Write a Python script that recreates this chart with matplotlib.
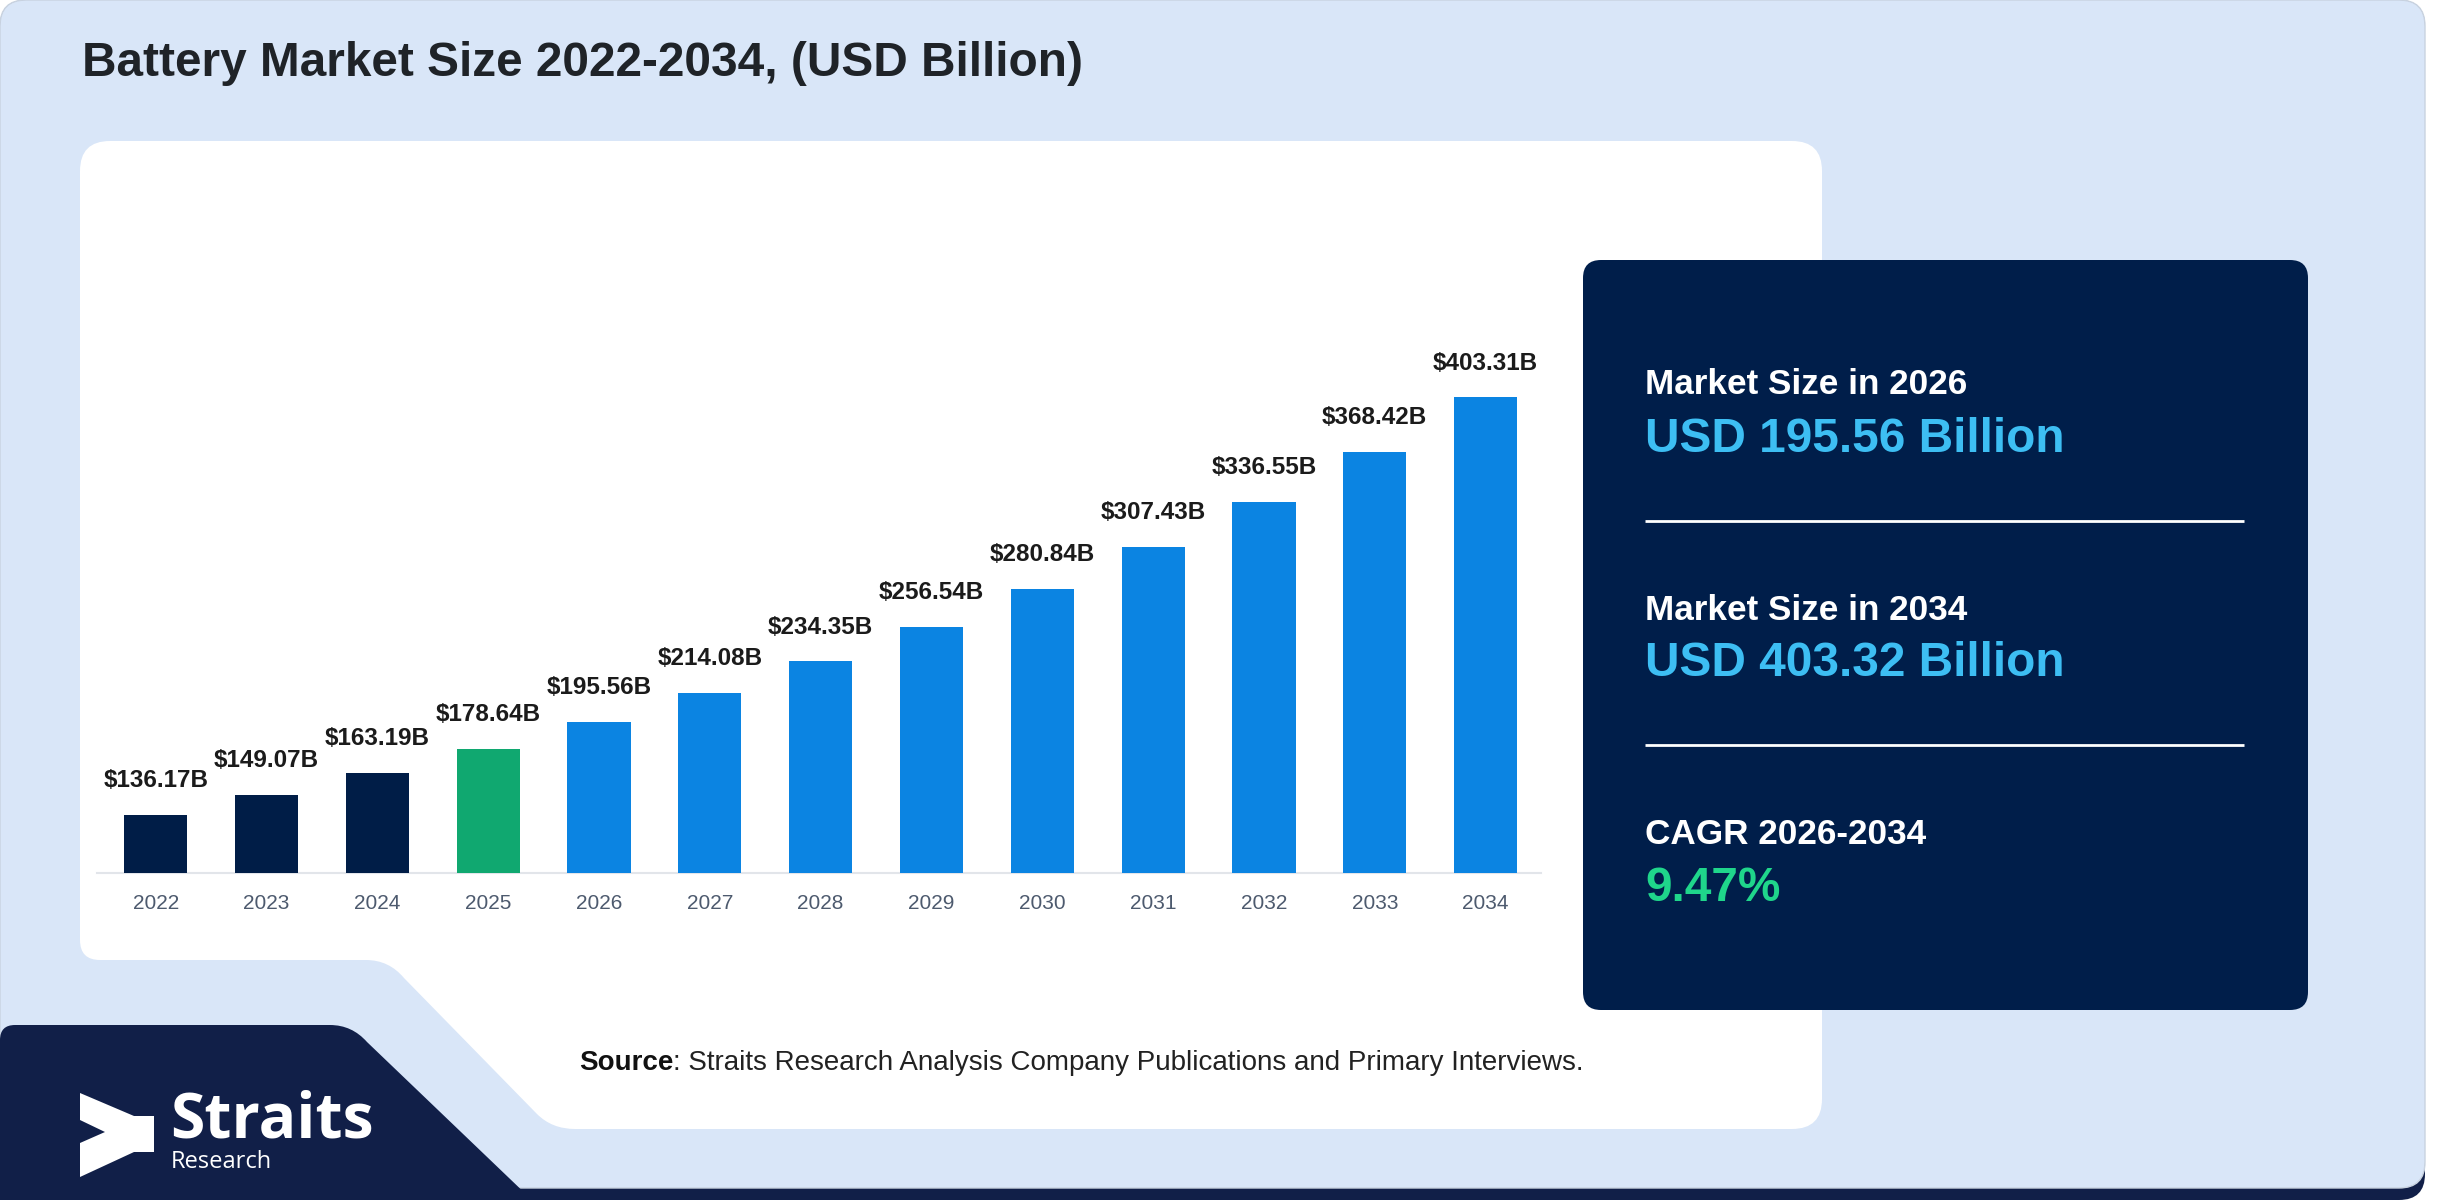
import matplotlib
matplotlib.use("Agg")
import matplotlib.pyplot as plt
from matplotlib.patches import FancyBboxPatch, PathPatch, Polygon
from matplotlib.path import Path

# ---------------- data ----------------
years = ["2022", "2023", "2024", "2025", "2026", "2027", "2028",
         "2029", "2030", "2031", "2032", "2033", "2034"]
values = [136.17, 149.07, 163.19, 178.64, 195.56, 214.08, 234.35,
          256.54, 280.84, 307.43, 336.55, 368.42, 403.31]
title = "Battery Market Size 2022-2034, (USD Billion)"
stat_labels = ["Market Size in 2026", "Market Size in 2034", "CAGR 2026-2034"]
stat_values = ["USD 195.56 Billion", "USD 403.32 Billion", "9.47%"]
source_bold = "Source"
source_rest = ": Straits Research Analysis Company Publications and Primary Interviews."

# ---------------- style ----------------
NAVY = "#001d47"
GREEN = "#10a870"
BLUE = "#0b84e2"
BG = "#d9e6f8"
PANEL = "#001e4a"
LOGO_NAVY = "#111f48"
VAL_BLUE = "#3dbef3"
VAL_GREEN = "#1fd68b"
FONT = ["Liberation Sans", "DejaVu Sans"]

plt.rcParams["font.family"] = FONT

W, H = 2452, 1200
fig = plt.figure(figsize=(W / 100, H / 100), dpi=100, facecolor="white")

bg = fig.add_axes([0, 0, 1, 1])
bg.set_xlim(0, W)
bg.set_ylim(H, 0)
bg.axis("off")

# bottom navy strip and light-blue background
bg.add_patch(FancyBboxPatch((0, 0), 2425, 1200, boxstyle="round,pad=0,rounding_size=26",
                            fc=LOGO_NAVY, ec="none", zorder=0))
bg.add_patch(FancyBboxPatch((0, 0), 2425, 1188, boxstyle="round,pad=0,rounding_size=26",
                            fc=BG, ec="#c9d3e0", lw=1, zorder=1))

# white chart panel with bottom-left notch
C3 = Path.CURVE3
verts = [
    (110, 141), (1792, 141), (1822, 141), (1822, 171),
    (1822, 1099), (1822, 1129), (1792, 1129),
    (575, 1129), (552, 1129), (537, 1114),
    (404, 978), (389, 960), (366, 960),
    (100, 960), (80, 960), (80, 940),
    (80, 171), (80, 141), (110, 141),
]
codes = [Path.MOVETO, Path.LINETO, C3, C3,
         Path.LINETO, C3, C3,
         Path.LINETO, C3, C3,
         Path.LINETO, C3, C3,
         Path.LINETO, C3, C3,
         Path.LINETO, C3, C3]
bg.add_patch(PathPatch(Path(verts, codes), fc="white", ec="none", zorder=2))

# navy logo block bottom-left
verts2 = [
    (0, 1040), (0, 1025), (15, 1025),
    (330, 1025), (352, 1025), (367, 1042),
    (532, 1200), (0, 1200), (0, 1040),
]
codes2 = [Path.MOVETO, C3, C3, Path.LINETO, C3, C3, Path.LINETO, Path.LINETO, Path.CLOSEPOLY]
bg.add_patch(PathPatch(Path(verts2, codes2), fc=LOGO_NAVY, ec="none", zorder=3))

# logo icon
icon = [(80, 1093), (134, 1116), (154, 1116), (154, 1152), (134, 1152),
        (80, 1177), (80, 1143), (105, 1132), (80, 1120)]
bg.add_patch(Polygon(icon, closed=True, fc="white", ec="none", zorder=4))
bg.text(170, 1138, "Straits", color="white", fontsize=45, fontweight="bold",
        family=["Open Sans", "DejaVu Sans"], va="baseline", ha="left", zorder=5)
bg.text(171, 1168, "Research", color="white", fontsize=17,
        family=["Open Sans", "DejaVu Sans"], va="baseline", ha="left", zorder=5)

# title
bg.text(82, 76, title, fontsize=34.4, fontweight="bold", color="#1f2328",
        va="baseline", ha="left", zorder=5)

# source
t1 = bg.text(579, 1070, source_bold, fontsize=20, fontweight="bold", color="#111111",
             va="baseline", ha="left", zorder=5)
bg.annotate(source_rest, xy=(1, 0), xycoords=t1, fontsize=20, color="#222222",
            va="bottom", ha="left", zorder=5)

# right dark panel
bg.add_patch(FancyBboxPatch((1583, 260), 725, 750, boxstyle="round,pad=0,rounding_size=18",
                            fc=PANEL, ec="none", zorder=6))
label_y = [394, 620, 844]
value_y = [452, 676, 901]
val_colors = [VAL_BLUE, VAL_BLUE, VAL_GREEN]
for lab, val, ly, vy, vc in zip(stat_labels, stat_values, label_y, value_y, val_colors):
    bg.text(1645, ly, lab, fontsize=25.3, fontweight="bold", color="white",
            va="baseline", ha="left", zorder=7)
    bg.text(1645, vy, val, fontsize=34.4, fontweight="bold", color=vc,
            va="baseline", ha="left", zorder=7)
for sy in [521, 745]:
    bg.plot([1645, 2244], [sy, sy], color="white", lw=2, zorder=7, solid_capstyle="butt")

# ---------------- bar chart ----------------
ymin = 99.0
ax_left, ax_right, ax_bottom, ax_top = 97, 1541, 873, 180
ax = fig.add_axes([ax_left / W, 1 - ax_bottom / H, (ax_right - ax_left) / W,
                   (ax_bottom - ax_top) / H])
ax.set_zorder(5)
ax.patch.set_alpha(0)
px_per_unit = 1.563
ax.set_ylim(ymin, ymin + (ax_bottom - ax_top) / px_per_unit)
ax.set_xlim(-0.53, 12.5)

colors = [NAVY if int(y) < 2025 else (GREEN if int(y) == 2025 else BLUE) for y in years]
x = list(range(len(years)))
ax.bar(x, values, width=0.57, color=colors, zorder=3)
for xi, v in zip(x, values):
    ax.annotate(f"${v:.2f}B", xy=(xi, v), xytext=(0, 20), textcoords="offset points",
                ha="center", va="baseline", fontsize=17.5, fontweight="bold",
                color="#1b1b1b")

ax.set_xticks(x, years)
ax.tick_params(axis="x", length=0, pad=15, labelsize=15, labelcolor="#4d5a6e")
ax.set_yticks([])
for s in ["top", "right", "left"]:
    ax.spines[s].set_visible(False)
ax.spines["bottom"].set_color("#e2e5ea")
ax.spines["bottom"].set_linewidth(1.5)

fig.savefig("out.png", dpi=100, facecolor="white")
